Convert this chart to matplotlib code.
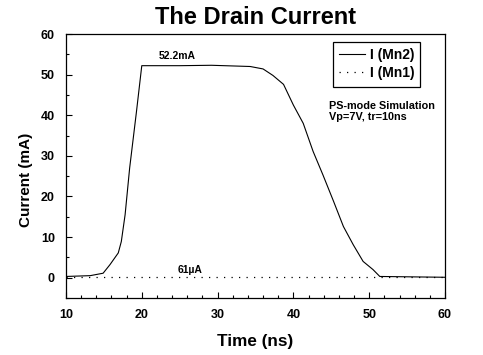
import matplotlib
matplotlib.use('Agg')
from matplotlib import pyplot as plt
from matplotlib.ticker import MultipleLocator

# I(Mn2)
t_mn2 = [10, 13.2, 14.9, 15.8, 16.9, 17.3, 17.8, 18.4, 19.3, 20.0, 25, 29.2,
         34.3, 36.0, 37.3, 38.7, 40.0, 41.3, 42.6, 43.9, 45.3, 46.6, 47.9,
         49.2, 50.5, 51.4, 60]
i_mn2 = [0.3, 0.5, 1.1, 3.2, 6.1, 8.9, 15.5, 27.0, 40.9, 52.2, 52.2, 52.3,
         52.0, 51.4, 49.8, 47.6, 42.5, 38.0, 31.1, 25.3, 18.8, 12.6, 8.1,
         4.0, 2.0, 0.3, 0.1]

# I(Mn1) stays at about 61 uA
t_mn1 = [10, 60]
i_mn1 = [0.061, 0.061]

plt.rcParams['font.family'] = ['Liberation Sans', 'DejaVu Sans']
plt.rcParams['font.weight'] = 'bold'

fig = plt.figure(figsize=(4.83, 3.55), dpi=100)
ax = fig.add_axes([0.1366, 0.1606, 0.7847, 0.7436])

ax.plot(t_mn2, i_mn2, color='black', linewidth=0.8, label='I (Mn2)')
ax.plot(t_mn1, i_mn1, color='black', linewidth=0.9, linestyle=(0, (1, 5)), label='I (Mn1)')

ax.set_xlim(10, 60)
ax.set_ylim(-5, 60)
ax.xaxis.set_major_locator(MultipleLocator(10))
ax.xaxis.set_minor_locator(MultipleLocator(2))
ax.yaxis.set_major_locator(MultipleLocator(10))
ax.yaxis.set_minor_locator(MultipleLocator(5))
ax.tick_params(which='both', direction='in', top=False, right=False,
               labelsize=9, width=0.8)
ax.tick_params(which='major', length=4, pad=8)
ax.tick_params(which='minor', length=2)
for lbl in ax.get_xticklabels() + ax.get_yticklabels():
    lbl.set_fontweight('bold')
for s in ax.spines.values():
    s.set_linewidth(0.9)

ax.set_title('The Drain Current', fontsize=17, fontweight='bold', pad=7)
ax.set_xlabel('Time (ns)', fontsize=12.3, fontweight='bold', labelpad=9)
ax.set_ylabel('Current (mA)', fontsize=11, fontweight='bold')
ax.yaxis.set_label_coords(-0.087, 0.447)

ax.text(24.7, 53.3, '52.2mA', fontsize=7.5, fontweight='bold', ha='center', va='bottom')
ax.text(26.4, 0.6, '61\u00b5A', fontsize=7.5, fontweight='bold', ha='center', va='bottom')

leg = ax.legend(loc='upper left', bbox_to_anchor=(0.704, 0.97), borderaxespad=0,
                fancybox=False, edgecolor='black', framealpha=1,
                prop={'size': 10, 'weight': 'bold'}, handlelength=1.9,
                handletextpad=0.3, borderpad=0.45, labelspacing=0.3)
leg.get_frame().set_linewidth(0.9)

ax.text(0.693, 0.745, 'PS-mode Simulation\nVp=7V, tr=10ns', transform=ax.transAxes,
        fontsize=7.8, fontweight='bold', ha='left', va='top', linespacing=1.05)

plt.savefig('out.png', dpi=100)
